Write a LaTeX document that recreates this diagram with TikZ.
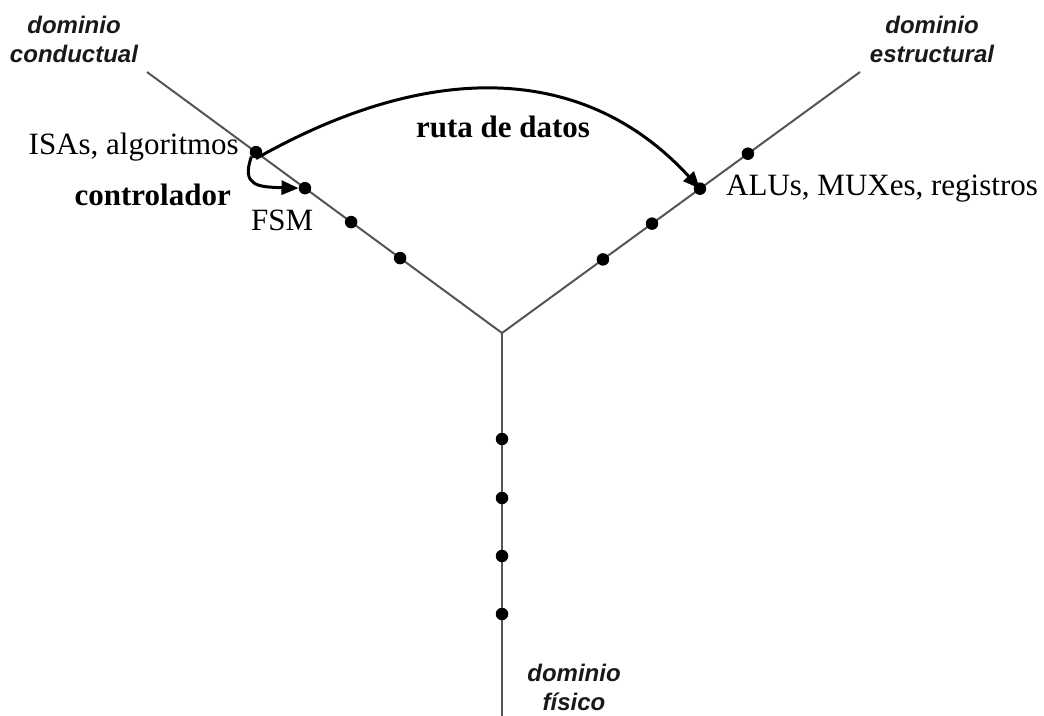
\documentclass[tikz,border=0pt]{standalone}
\usepackage{fontspec}
\setmainfont{Liberation Serif}
\newfontfamily\domfont{Liberation Sans}
\usetikzlibrary{arrows.meta,calc}
\definecolor{axisgray}{RGB}{85,85,85}
\definecolor{domaintext}{RGB}{25,25,25}
\begin{document}
\begin{tikzpicture}[x=1pt,y=-1pt,
  axis/.style={draw=axisgray, line width=2pt},
  level/.style={circle, fill=black, inner sep=0pt, minimum size=12.5pt},
  lbl/.style={font=\fontsize{31}{37}\selectfont, inner sep=0pt},
  lblb/.style={font=\bfseries\fontsize{31}{37}\selectfont, inner sep=0pt},
  domname/.style={font=\domfont\bfseries\itshape\fontsize{24}{29}\selectfont,
    align=center, inner sep=0pt, text=domaintext},
  flow/.style={draw=black, line width=3pt, -{Triangle[length=17pt,width=14pt]}}]
\useasboundingbox (0,0) rectangle (1044,715);

% the three domain axes of the Y-chart
\coordinate (C) at (502,333);
\coordinate (L) at (147,72);
\coordinate (R) at (860,72);
\coordinate (B) at (502,716);
\draw[axis] (L) -- (C) -- (R);
\draw[axis] (C) -- (B);

% abstraction levels on each axis
\node[level] (c1) at ($(L)!0.307!(C)$) {};
\node[level] (c2) at ($(L)!0.445!(C)$) {};
\node[level] (c3) at ($(L)!0.575!(C)$) {};
\node[level] (c4) at ($(L)!0.713!(C)$) {};
\node[level] (s1) at ($(C)!0.687!(R)$) {};
\node[level] (s2) at ($(C)!0.553!(R)$) {};
\node[level] (s3) at ($(C)!0.419!(R)$) {};
\node[level] (s4) at ($(C)!0.282!(R)$) {};
\node[level] (f1) at (502,439) {};
\node[level] (f2) at (502,498) {};
\node[level] (f3) at (502,556) {};
\node[level] (f4) at (502,614) {};

% domain names
\node[domname, anchor=north] (dc) at (74,16) {dominio\\conductual};
\node[domname, anchor=north] (de) at (932,16) {dominio\\estructural};
\node[domname, anchor=north] (df) at (574,664) {dominio\\físico};

% level labels
\node[lbl, anchor=base east] (isa) at (239,154) {ISAs, algoritmos};
\node[lbl, anchor=base west] (fsm) at (251,230) {FSM};
\node[lbl, anchor=base west] (alu) at (726,195) {ALUs, MUXes, registros};
\node[lblb, anchor=base east] (ctl) at (231,205) {controlador};
\node[lblb, anchor=base] (ruta) at (503,137) {ruta de datos};

% mappings from the behavioural level
\draw[flow] (c1.south) .. controls (430,60) and (585,63) .. (s2.center);
\draw[flow] (c1.south west) .. controls (241,186) and (258,187) .. (c2.west);
\end{tikzpicture}
\end{document}
